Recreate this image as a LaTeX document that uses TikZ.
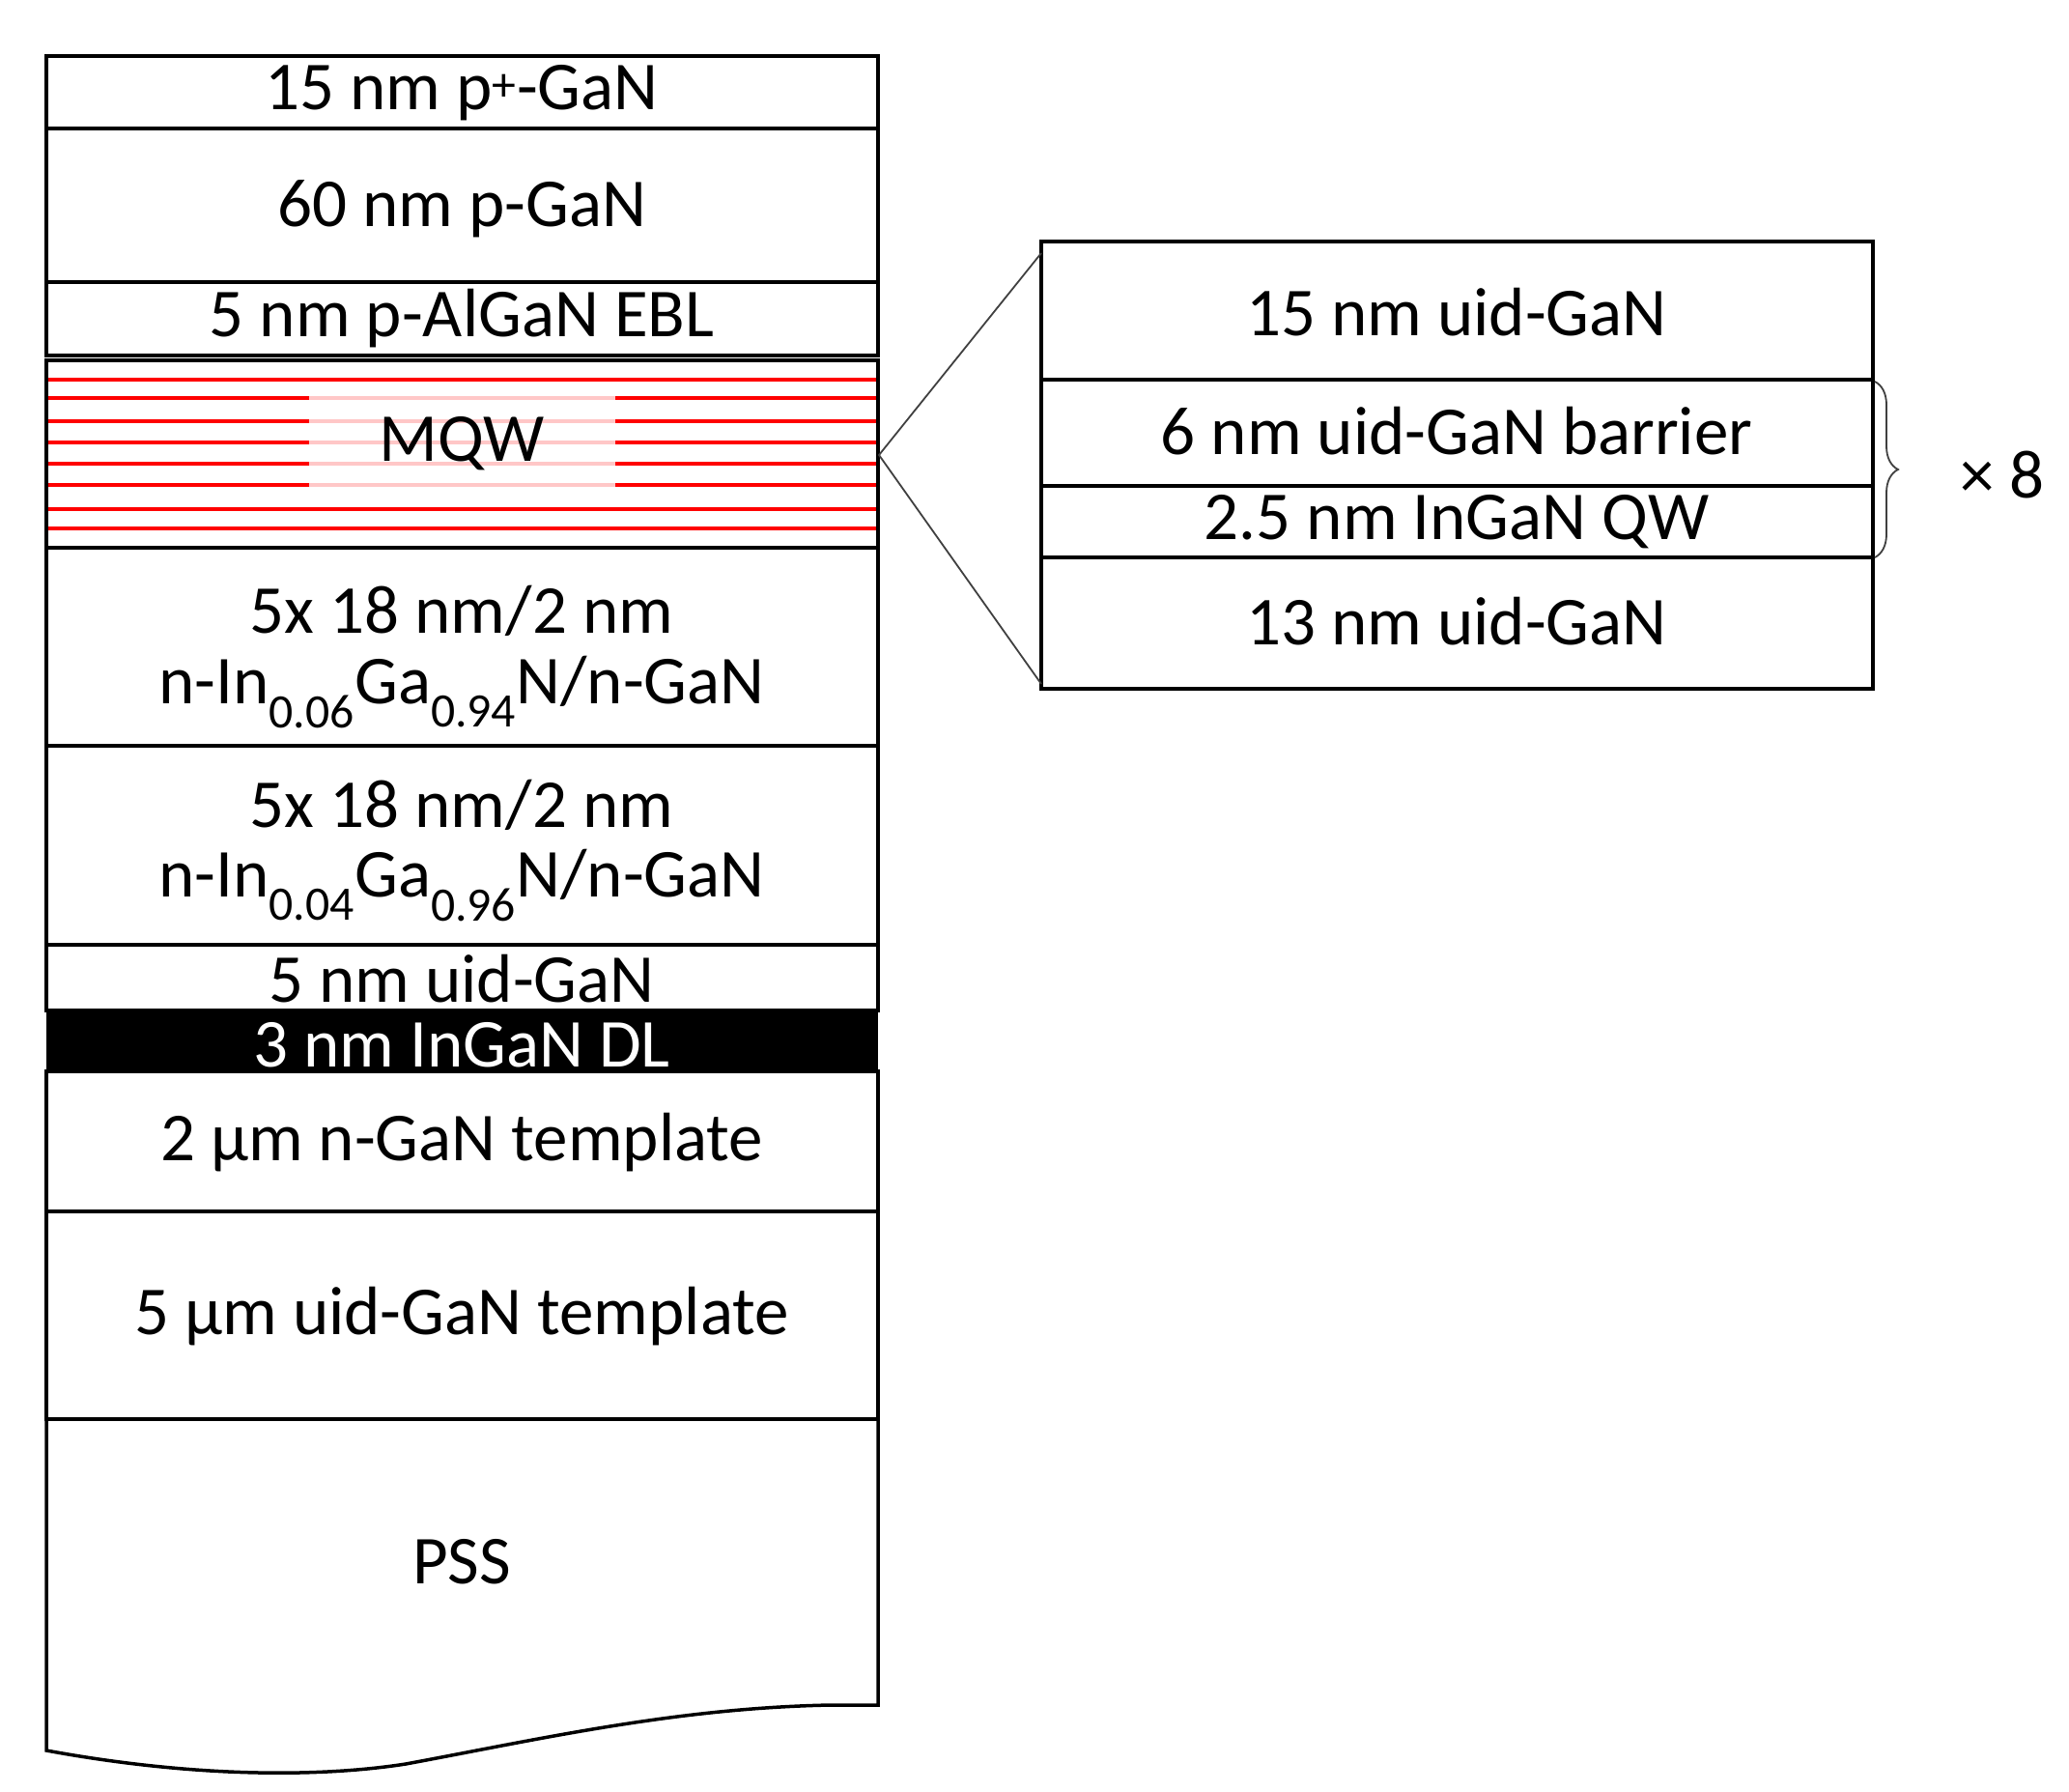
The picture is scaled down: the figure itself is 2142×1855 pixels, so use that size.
\documentclass[tikz,border=0pt]{standalone}
\usepackage{fontspec}
\setmainfont{Carlito}
\usetikzlibrary{decorations.pathreplacing}
\begin{document}
\begin{tikzpicture}[x=1pt,y=-1pt,
  lay/.style={draw=black,line width=3.5pt},
  txt/.style={font=\fontsize{71}{80}\selectfont,inner sep=0pt,anchor=center},
  rl/.style={red,line width=4pt},
  rlight/.style={red!22,line width=4pt},
  thin/.style={line width=1.8pt,black!75}]
\useasboundingbox (0,0) rectangle (2142,1855);
% left stack
\draw[lay] (48,58) rectangle (909,133);
\draw[lay] (48,133) rectangle (909,292);
\draw[lay] (48,292) rectangle (909,368);
\foreach \y in {393,547} \draw[rl] (50,\y) -- (907,\y);
\foreach \y in {412,436,458,480,502} {
  \draw[rl] (50,\y) -- (320,\y);
  \draw[rlight] (320,\y) -- (637,\y);
  \draw[rl] (637,\y) -- (907,\y);}
\draw[rl] (50,527) -- (907,527);
\draw[lay] (48,373) rectangle (909,567);
\draw[lay] (48,567) rectangle (909,772);
\draw[lay] (48,772) rectangle (909,978);
\draw[lay] (48,978) rectangle (909,1046);
\fill[black] (48,1046) rectangle (909,1109);
\draw[lay] (48,1109) rectangle (909,1254);
\draw[lay] (48,1254) rectangle (909,1469);
\draw[lay] (48,1469) -- (909,1469) -- (909,1765) -- (860,1765)
  .. controls (700,1768) and (560,1800) .. (420,1826)
  .. controls (330,1840) and (200,1840) .. (48,1812) -- cycle;
\node[txt] (t1) at (478,96) {15 nm p\textsuperscript{+}-GaN};
\node[txt] (t2) at (478,216) {60 nm p-GaN};
\node[txt] (t3) at (478,330) {5 nm p-AlGaN EBL};
\node[txt] (t4) at (478,459) {MQW};
\node[txt] (t5) at (478,632) {5x 18 nm/2 nm};
\node[txt] (t6) at (478,717) {n-In\textsubscript{0.06}Ga\textsubscript{0.94}N/n-GaN};
\node[txt] (t7) at (478,833) {5x 18 nm/2 nm};
\node[txt] (t8) at (478,917) {n-In\textsubscript{0.04}Ga\textsubscript{0.96}N/n-GaN};
\node[txt] (t9) at (478,1013) {5 nm uid-GaN};
\node[txt,white] (t10) at (478,1082) {3 nm InGaN DL};
\node[txt] (t11) at (478,1183) {2 µm n-GaN template};
\node[txt] (t12) at (478,1363) {5 µm uid-GaN template};
\node[txt] (t13) at (478,1617) {PSS};
% zoom box
\draw[lay] (1078,250) rectangle (1939,393);
\draw[lay] (1078,393) rectangle (1939,503);
\draw[lay] (1078,503) rectangle (1939,577);
\draw[lay] (1078,577) rectangle (1939,713);
\coordinate (apex) at (910,471);
\coordinate (zt) at (1078,262);
\coordinate (zb) at (1078,708);
\draw[thin] (zt) -- (apex) -- (zb);
\node[txt] (r1) at (1508,323) {15 nm uid-GaN};
\node[txt] (r2) at (1508,446) {6 nm uid-GaN barrier};
\node[txt] (r3) at (1508,540) {2.5 nm InGaN QW};
\node[txt] (r4) at (1508,643) {13 nm uid-GaN};
\coordinate (b1) at (1941,395);
\coordinate (b2) at (1941,577);
\draw[thin,decorate,decoration={brace,amplitude=24pt}] (b1) -- (b2);
\node[txt] (x8) at (2073,492) {× 8};
\end{tikzpicture}
\end{document}
